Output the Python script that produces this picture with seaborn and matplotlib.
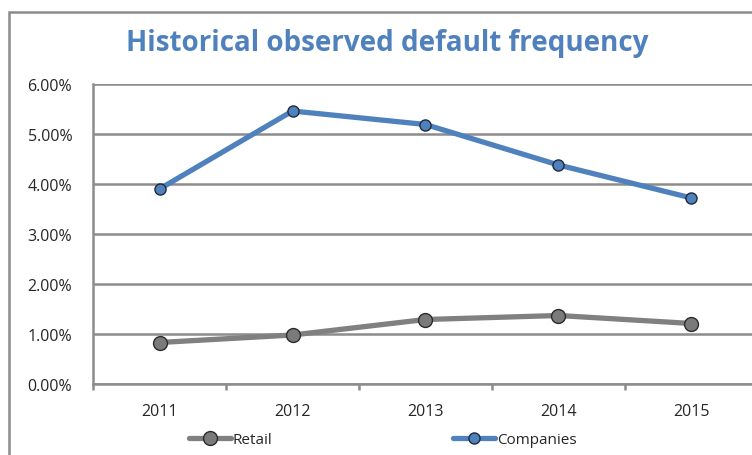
import matplotlib
matplotlib.use("Agg")
import matplotlib.pyplot as plt
import seaborn as sns
import pandas as pd
from matplotlib.patches import Rectangle
from matplotlib.ticker import FuncFormatter, FixedLocator

years = ["2011", "2012", "2013", "2014", "2015"]
retail = [0.83, 0.98, 1.29, 1.37, 1.21]
companies = [3.90, 5.46, 5.19, 4.38, 3.72]
y_ticks = [0, 1, 2, 3, 4, 5, 6]
title = "Historical observed default frequency"

sns.set_theme(style="white")
plt.rcParams["font.family"] = ["Open Sans", "DejaVu Sans"]

fig = plt.figure(figsize=(7.52, 4.56), dpi=100)
W, H = 752, 456
ax = fig.add_axes([93 / W, 1 - 385 / H, 665 / W, 300 / H])

grid_c = "#8c8c8c"
blue = "#4F81BD"
gray_line = "#808080"

df_r = pd.DataFrame({"year": years, "value": retail})
df_c = pd.DataFrame({"year": years, "value": companies})

sns.lineplot(data=df_r, x="year", y="value", ax=ax, color=gray_line, lw=3.8,
             marker="o", markersize=10, markerfacecolor="#7a7a7a",
             markeredgecolor="#2b2b2b", markeredgewidth=1.0, label="Retail", zorder=3)
sns.lineplot(data=df_c, x="year", y="value", ax=ax, color=blue, lw=3.8,
             marker="o", markersize=8, markerfacecolor=blue,
             markeredgecolor="#1f2a3a", markeredgewidth=1.0, label="Companies", zorder=3)

ax.set_xlim(-0.5, len(years) - 0.5)
ax.set_ylim(0, 6)
ax.set_yticks(y_ticks)
ax.yaxis.set_major_formatter(FuncFormatter(lambda v, p: f"{v:.2f}%"))
ax.set_xlabel("")
ax.set_ylabel("")

# gridlines
for v in y_ticks:
    ax.axhline(v, color=grid_c, lw=1.8, zorder=1)

for s in ["top", "right"]:
    ax.spines[s].set_visible(False)
for s in ["left", "bottom"]:
    ax.spines[s].set_color(grid_c)
    ax.spines[s].set_linewidth(1.8)

ax.tick_params(axis="y", which="major", length=6, width=1.8, color=grid_c,
               pad=9, labelsize=11.5, labelcolor="#262626")
ax.tick_params(axis="x", which="major", length=0, pad=14, labelsize=11.5,
               labelcolor="#262626")
ax.xaxis.set_minor_locator(FixedLocator([i - 0.5 for i in range(len(years) + 1)]))
ax.tick_params(axis="x", which="minor", length=4, width=1.8, color=grid_c,
               direction="out", bottom=True)

ax.get_legend().remove()
handles, labels = ax.get_legend_handles_labels()
leg = fig.legend(handles, labels, loc="center", bbox_to_anchor=(0.509, 1 - 441 / H),
                 ncol=2, frameon=False, fontsize=11, handlelength=2.75,
                 handletextpad=0.15, columnspacing=11.8, borderpad=0)
for t in leg.get_texts():
    t.set_color("#262626")

fig.text(387 / W, 1 - 44 / H, title, ha="center", va="center",
         fontsize=20, fontweight="bold", color=blue)

fig.patches.append(Rectangle((9 / W, -0.1), 1.2, 1 - 13 / H + 0.1,
                             transform=fig.transFigure, fill=False,
                             edgecolor=grid_c, lw=1.8, zorder=0))

fig.savefig("out.png", dpi=100)
